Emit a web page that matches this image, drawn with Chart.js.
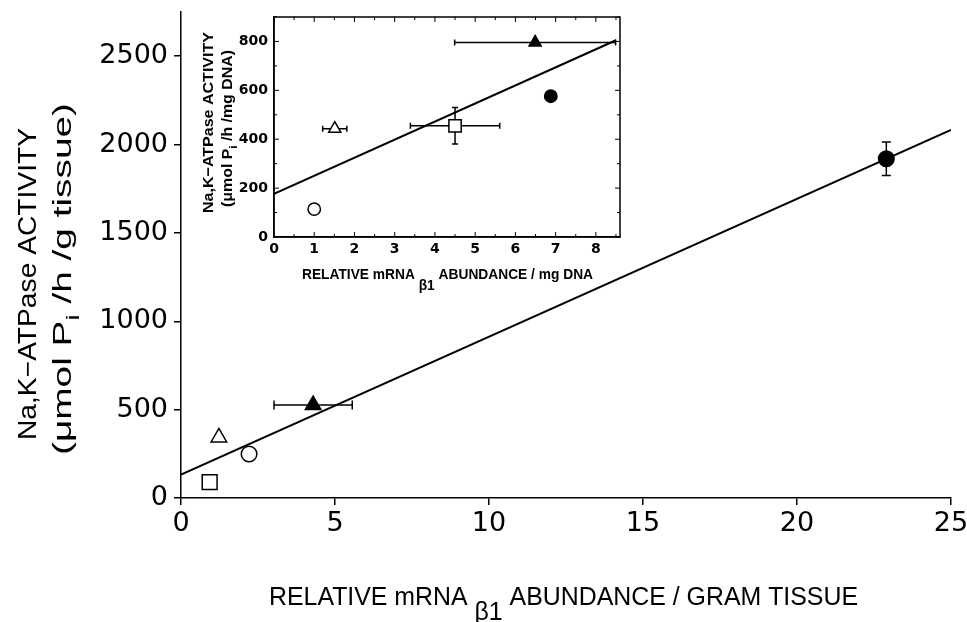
<!DOCTYPE html>
<html>
<head>
<meta charset="utf-8">
<script src="https://cdn.jsdelivr.net/npm/chart.js@4.4.1/dist/chart.umd.min.js"></script>
<style>
  body { margin: 0; background: #fff; }
  #wrap { position: relative; width: 967px; height: 622px; }
  #main { position: absolute; left: 0; top: 0; }
  #inset { position: absolute; left: 200px; top: 0; }
</style>
</head>
<body>
<div id="wrap">
  <canvas id="main" width="967" height="622"></canvas>
  <canvas id="inset" width="440" height="300"></canvas>
</div>
<script>
(function(){
  // main panel: activity per gram tissue vs mRNA per gram tissue
  const mainX    = [0.93, 1.23, 2.21, 4.29, 22.9];
  const mainY    = [90, 343, 249, 526, 1920];
  const mainXErr = [0, 0, 0, 1.27, 0];
  const mainYErr = [0, 0, 0, 0, 95];
  const mainFitX = [0, 25];
  const mainFitY = [133, 2083];
  const mainXTicks = [0, 5, 10, 15, 20, 25];
  const mainYTicks = [0, 500, 1000, 1500, 2000, 2500];

  // inset: activity per mg DNA vs mRNA per mg DNA
  const insetX    = [4.5, 1.51, 1.0, 6.49, 6.88];
  const insetY    = [455, 443, 114, 796, 576];
  const insetXErr = [1.11, 0.3, 0, 2.0, 0];
  const insetYErr = [75, 0, 0, 0, 0];
  const insetFitX = [0, 8.5];
  const insetFitY = [177, 805];
  const insetXTicks = [0, 1, 2, 3, 4, 5, 6, 7, 8];
  const insetYTicks = [0, 200, 400, 600, 800];

  // one marker per group, same order in both panels
  const shapes = ['rect', 'triangle', 'circle', 'triangle', 'circle'];
  const filled = [false, false, false, true, true];

  const FAM = '"Liberation Sans", Arial, sans-serif';

  // draws text squeezed into a span; rot = reading bottom to top
  function drawRich(ctx, parts, a, b, base, size, weight, rot) {
    ctx.save();
    let total = 0;
    parts.forEach(p => {
      ctx.font = weight + ' ' + Math.round(size * (p.s || 1)) + 'px ' + FAM;
      p.w = ctx.measureText(p.t).width;
      total += p.w;
    });
    if (rot) {
      ctx.translate(base, a);
      ctx.rotate(-Math.PI / 2);
    } else {
      ctx.translate(a, base);
    }
    ctx.scale(Math.abs(b - a) / total, 1);
    ctx.fillStyle = '#000';
    ctx.textAlign = 'left';
    ctx.textBaseline = 'alphabetic';
    let x = 0;
    parts.forEach(p => {
      ctx.font = weight + ' ' + Math.round(size * (p.s || 1)) + 'px ' + FAM;
      ctx.fillText(p.t, x, p.dy || 0);
      x += p.w;
    });
    ctx.restore();
  }

  function errorBars(xs, ys, xe, ye, cap) {
    return {
      id: 'errorBars',
      beforeDatasetsDraw(chart) {
        const ctx = chart.ctx, sx = chart.scales.x, sy = chart.scales.y;
        ctx.save();
        ctx.strokeStyle = '#000';
        ctx.lineWidth = 1.5;
        xs.forEach((v, i) => {
          const px = sx.getPixelForValue(v), py = sy.getPixelForValue(ys[i]);
          if (xe[i]) {
            const l = sx.getPixelForValue(v - xe[i]), r = sx.getPixelForValue(v + xe[i]);
            ctx.beginPath();
            ctx.moveTo(l, py); ctx.lineTo(r, py);
            ctx.moveTo(l, py - cap); ctx.lineTo(l, py + cap);
            ctx.moveTo(r, py - cap); ctx.lineTo(r, py + cap);
            ctx.stroke();
          }
          if (ye[i]) {
            const t = sy.getPixelForValue(ys[i] + ye[i]), b = sy.getPixelForValue(ys[i] - ye[i]);
            ctx.beginPath();
            ctx.moveTo(px, t); ctx.lineTo(px, b);
            ctx.moveTo(px - cap, t); ctx.lineTo(px + cap, t);
            ctx.moveTo(px - cap, b); ctx.lineTo(px + cap, b);
            ctx.stroke();
          }
        });
        ctx.restore();
      }
    };
  }

  function datasets(xs, ys, fx, fy, radius) {
    return [
      {
        type: 'line',
        data: fx.map((v, i) => ({ x: v, y: fy[i] })),
        borderColor: '#000',
        borderWidth: 2,
        pointRadius: 0,
        fill: false
      },
      {
        type: 'scatter',
        data: xs.map((v, i) => ({ x: v, y: ys[i] })),
        pointStyle: shapes,
        pointRadius: shapes.map(radius),
        backgroundColor: filled.map(f => f ? '#000' : '#fff'),
        borderColor: '#000',
        borderWidth: 1.5
      }
    ];
  }

  function axis(min, max, ticks, font, pad, tickLen, fit) {
    return {
      type: 'linear', min: min, max: max,
      afterBuildTicks: s => { s.ticks = ticks.map(v => ({ value: v })); },
      afterFit: s => {
        fit(s);
        // the ticks don't reach the axis ends, so no edge padding for labels
        s.paddingTop = 0; s.paddingBottom = 0; s.paddingLeft = 0; s.paddingRight = 0;
      },
      ticks: { color: '#000', font: font, padding: pad, maxRotation: 0, autoSkip: false,
        callback: v => String(v) },
      grid: { drawOnChartArea: false, drawTicks: tickLen > 0, tickLength: tickLen, color: '#000', lineWidth: 1.5 },
      border: { display: true, color: '#000', width: 1.5 }
    };
  }

  const mainTitles = {
    id: 'mainTitles',
    afterDraw(chart) {
      const ctx = chart.ctx;
      drawRich(ctx, [{ t: 'RELATIVE mRNA ' }, { t: 'β1', dy: 15 }, { t: ' ABUNDANCE / GRAM TISSUE' }],
        269, 858, 605, 26, 'normal', false);
      drawRich(ctx, [{ t: 'Na,K−ATPase ACTIVITY' }], 440, 128, 36, 25, 'normal', true);
      drawRich(ctx, [{ t: '(μmol P' }, { t: 'i', s: 0.7, dy: 8 }, { t: ' /h /g tissue)' }],
        455, 103, 71, 25, 'normal', true);
    }
  };

  const insetFrame = {
    id: 'insetFrame',
    afterDraw(chart) {
      const ctx = chart.ctx, a = chart.chartArea, sx = chart.scales.x, sy = chart.scales.y;
      ctx.save();
      ctx.strokeStyle = '#000';
      ctx.lineWidth = 1.5;
      ctx.strokeRect(a.left, a.top, a.right - a.left, a.bottom - a.top);
      ctx.lineWidth = 1;
      ctx.beginPath();
      for (let v = 0; v <= 8.6; v += 0.5) {
        const p = sx.getPixelForValue(v), len = v % 1 === 0 ? 5 : 3;
        ctx.moveTo(p, a.bottom); ctx.lineTo(p, a.bottom - len);
        ctx.moveTo(p, a.top); ctx.lineTo(p, a.top + len);
      }
      for (let v = 0; v <= 900; v += 100) {
        const p = sy.getPixelForValue(v), len = v % 200 === 0 ? 5 : 3;
        ctx.moveTo(a.left, p); ctx.lineTo(a.left + len, p);
        ctx.moveTo(a.right, p); ctx.lineTo(a.right - len, p);
      }
      ctx.stroke();
      ctx.restore();
      // titles, in page coordinates minus canvas offset (200, 0)
      drawRich(ctx, [{ t: 'RELATIVE mRNA ' }, { t: 'β1', dy: 11 }, { t: ' ABUNDANCE / mg DNA' }],
        102, 393, 279, 15, 'bold', false);
      drawRich(ctx, [{ t: 'Na,K−ATPase ACTIVITY' }], 213, 32, 13, 15, 'bold', true);
      drawRich(ctx, [{ t: '(μmol P' }, { t: 'i', s: 0.7, dy: 5 }, { t: ' /h /mg DNA)' }],
        207, 50, 32, 15, 'bold', true);
    }
  };

  const mainFont = { family: '"DejaVu Sans", sans-serif', size: 27, weight: 'normal' };
  new Chart(document.getElementById('main'), {
    type: 'scatter',
    data: { datasets: datasets(mainX, mainY, mainFitX, mainFitY,
      s => s === 'rect' ? 10.5 : s === 'triangle' ? 9 : 7.8) },
    options: {
      responsive: false, animation: false, events: [], devicePixelRatio: 1,
      layout: { padding: { top: 10, right: 16, left: 0, bottom: 0 } },
      plugins: { legend: { display: false }, tooltip: { enabled: false } },
      scales: {
        x: axis(0, 25, mainXTicks, mainFont, 3, 7, s => { s.height = 124; }),
        y: axis(0, 2750, mainYTicks, mainFont, 6, 7, s => { s.width = 181; })
      }
    },
    plugins: [errorBars(mainX, mainY, mainXErr, mainYErr, 4.5), mainTitles]
  });

  const insetFont = { family: '"DejaVu Sans", sans-serif', size: 14, weight: 'bold' };
  new Chart(document.getElementById('inset'), {
    type: 'scatter',
    data: { datasets: datasets(insetX, insetY, insetFitX, insetFitY,
      s => s === 'rect' ? 8.7 : s === 'triangle' ? 7 : 6.2) },
    options: {
      responsive: false, animation: false, events: [], devicePixelRatio: 1,
      layout: { padding: { top: 17, right: 20, left: 0, bottom: 0 } },
      plugins: { legend: { display: false }, tooltip: { enabled: false } },
      scales: {
        x: axis(0, 8.6, insetXTicks, insetFont, 4, 0, s => { s.height = 63; }),
        y: axis(0, 900, insetYTicks, insetFont, 6, 0, s => { s.width = 74; })
      }
    },
    plugins: [errorBars(insetX, insetY, insetXErr, insetYErr, 3), insetFrame]
  });
})();
</script>
</body>
</html>
